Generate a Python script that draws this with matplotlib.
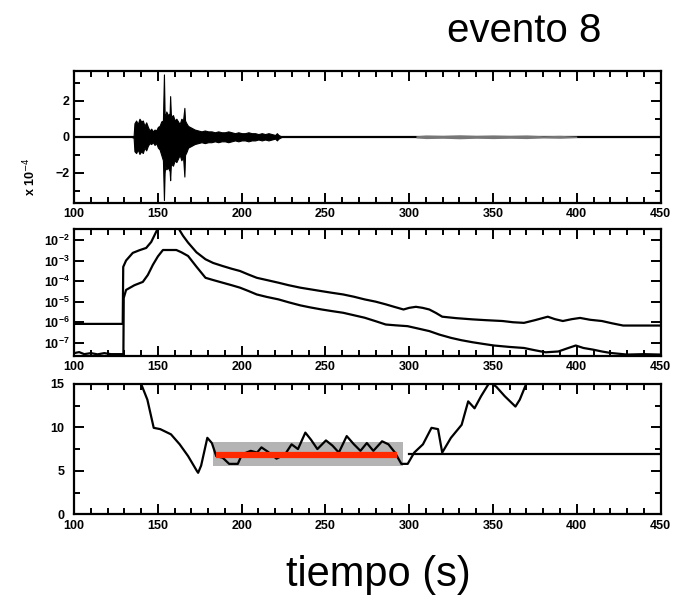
import numpy as np
import matplotlib
matplotlib.use("Agg")
import matplotlib.pyplot as plt
from matplotlib.ticker import MultipleLocator, FixedLocator, LogFormatterMathtext

# ---------------- data ----------------
# seismogram envelope (x 10^-4)
seis_t = [134, 135.5, 136, 137, 138, 139, 140, 141, 142, 143, 144, 145, 146, 147, 148, 149,
          150, 151, 152, 153, 153.6, 154, 154.4, 155, 156, 157, 157.3, 157.7, 158, 159,
          160, 161, 162, 163, 164, 165, 165.8, 166.2, 167, 168, 169, 170, 171, 172, 174,
          176, 178, 180, 182, 184, 186, 188, 190, 192, 194, 196, 198, 200, 202, 204, 206,
          208, 210, 212, 214, 216, 218, 220, 221, 222, 223, 224]
seis_hi = [0, 0.05, 0.75, 0.9, 0.7, 1.0, 0.85, 0.9, 0.6, 0.8, 0.55, 0.35, 0.45, 0.3, 0.4, 0.35,
           0.55, 0.6, 0.85, 0.9, 3.45, 1.3, 1.1, 1.4, 1.2, 1.3, 2.25, 1.3, 1.1, 1.2,
           0.9, 1.0, 0.85, 0.7, 1.0, 0.9, 1.6, 0.9, 0.75, 0.6, 0.55, 0.5, 0.45, 0.4, 0.35,
           0.3, 0.35, 0.3, 0.3, 0.25, 0.3, 0.25, 0.25, 0.3, 0.25, 0.2, 0.25, 0.2, 0.2, 0.25, 0.2,
           0.2, 0.15, 0.2, 0.15, 0.2, 0.15, 0.1, 0.2, 0.1, 0.05, 0]
seis_lo = [0, -0.05, -0.8, -0.9, -0.7, -0.95, -0.8, -0.9, -0.6, -0.75, -0.5, -0.35, -0.4, -0.3, -0.45, -0.35,
           -0.6, -0.7, -1.0, -1.3, -3.5, -2.0, -1.6, -1.8, -1.7, -1.9, -2.4, -1.6, -1.5, -1.6,
           -1.3, -1.4, -1.2, -1.0, -1.3, -1.1, -2.2, -1.0, -0.85, -0.6, -0.55, -0.5, -0.45, -0.4, -0.35,
           -0.3, -0.35, -0.3, -0.3, -0.25, -0.3, -0.25, -0.25, -0.3, -0.25, -0.2, -0.25, -0.2, -0.2, -0.25, -0.2,
           -0.2, -0.15, -0.2, -0.15, -0.2, -0.15, -0.1, -0.2, -0.1, -0.05, 0]
coda_t = [304, 310, 320, 330, 340, 350, 360, 370, 380, 390, 400]
coda_amp = [0.06, 0.1, 0.08, 0.11, 0.08, 0.1, 0.08, 0.1, 0.06, 0.08, 0.04]

# spectral envelopes (log10)
upper_t = [100, 129, 129.3, 131, 135, 139, 143, 146, 149, 151, 156, 162, 165, 168, 173, 178.4,
           183, 188.7, 194, 199, 204, 209, 215, 222, 228, 235, 241, 247.8, 254, 260.6, 267,
           273.4, 280, 286, 291, 296.6, 300, 304, 308, 312, 316, 319.7, 328, 337.7, 346,
           355.7, 362, 368.5, 375, 382.7, 387, 391.7, 397, 402, 408, 415, 421, 427.7, 438, 450]
upper_log = [-6.08, -6.08, -3.31, -3.0, -2.63, -2.5, -2.39, -2.1, -1.6, -1.3, -1.1, -1.4, -1.8, -2.13, -2.6, -2.94,
             -3.12, -3.27, -3.4, -3.51, -3.68, -3.84, -3.95, -4.08, -4.2, -4.32, -4.4, -4.49, -4.57, -4.65, -4.76,
             -4.89, -5.0, -5.13, -5.25, -5.38, -5.3, -5.25, -5.3, -5.38, -5.55, -5.73, -5.8, -5.86, -5.9,
             -5.94, -6.0, -6.03, -5.9, -5.73, -5.85, -5.94, -5.85, -5.79, -5.88, -5.94, -6.05, -6.16, -6.16, -6.16]
lower_t = [100, 103, 106, 110, 114, 118, 122, 129.4, 129.6, 131, 136, 141, 144, 147, 150, 153,
           161, 164, 168, 173, 178.4, 183, 188.7, 194, 199, 204, 209, 215, 222, 228, 235, 241,
           247.8, 254, 260.6, 267, 273.4, 280, 286, 292, 299, 305, 312, 318, 325, 331, 337.7,
           344, 350.6, 360, 368.5, 375, 381.4, 389, 395, 399.4, 404, 409.7, 415, 420, 430, 440, 450]
lower_log = [-7.5, -7.45, -7.55, -7.5, -7.56, -7.5, -7.55, -7.55, -4.82, -4.43, -4.2, -4.04, -3.7, -3.21, -2.8, -2.49,
             -2.49, -2.6, -2.78, -3.3, -3.84, -3.95, -4.08, -4.2, -4.32, -4.48, -4.65, -4.77, -4.89, -5.03, -5.18, -5.28,
             -5.38, -5.46, -5.54, -5.66, -5.78, -5.95, -6.11, -6.15, -6.19, -6.3, -6.43, -6.6, -6.76, -6.87, -6.97,
             -7.05, -7.13, -7.2, -7.25, -7.36, -7.46, -7.42, -7.25, -7.13, -7.25, -7.33, -7.42, -7.49, -7.57, -7.55, -7.57]

# third panel curve
curve_t = [138, 140, 143.7, 147.5, 151.4, 157.8, 163, 168, 173.2, 174, 175.8, 179.5, 182.2, 184.8,
           188.7, 192.5, 197.7, 200.2, 205.4, 209.2, 211.8, 215.6, 220.8, 225.9, 229.8, 233.6,
           238, 241.3, 245.2, 250.3, 254.2, 258, 262.7, 267, 270.9, 274.7, 278.6, 283.8, 287.6,
           291.5, 295.3, 299.1, 303, 308.2, 313.3, 317.2, 319.7, 324.9, 331.3, 335.2, 339,
           342.9, 348, 351.9, 357, 363.4, 366, 369.8, 371]
curve_v = [15.6, 15.0, 13.2, 9.95, 9.8, 9.2, 8.05, 6.7, 5.0, 4.77, 5.6, 8.8, 8.2, 6.7,
           6.5, 5.8, 5.8, 6.9, 7.3, 7.1, 7.7, 7.2, 6.4, 6.9, 8.05, 7.5,
           9.4, 8.6, 7.5, 8.5, 7.9, 7.1, 9.0, 8.05, 7.3, 8.2, 7.3, 8.4, 8.05,
           7.1, 5.8, 5.8, 7.1, 8.05, 9.95, 9.8, 7.1, 8.8, 10.3, 13.0, 12.2,
           13.6, 15.2, 14.7, 13.6, 12.4, 13.2, 15.0, 15.6]
level_value = 6.8
band_low, band_high = 5.55, 8.35
fit_start, fit_end = 184.5, 292.5
band_start, band_end = 183, 296
level_start = 300

xticks_major = [100, 150, 200, 250, 300, 350, 400, 450]

# ---------------- style ----------------
plt.rcParams["font.family"] = ["Liberation Sans Narrow", "Liberation Sans", "DejaVu Sans"]
tick_fs = 9
lw_axis = 1.6


def style_axes(ax, ypad=3):
    ax.set_xlim(100, 450)
    ax.xaxis.set_major_locator(FixedLocator(xticks_major))
    ax.xaxis.set_minor_locator(MultipleLocator(10))
    ax.tick_params(which="both", direction="in", top=True, right=True,
                   width=1.4, labelsize=tick_fs)
    ax.tick_params(axis="x", which="both", pad=4)
    ax.tick_params(axis="y", which="both", pad=ypad)
    ax.tick_params(which="major", length=7)
    ax.tick_params(which="minor", length=4)
    for lab in ax.get_xticklabels() + ax.get_yticklabels():
        lab.set_fontweight("bold")
    for sp in ax.spines.values():
        sp.set_linewidth(lw_axis)


fig = plt.figure(figsize=(6.74, 6.0), dpi=100)
ax1 = fig.add_axes([0.110, 0.662, 0.870, 0.220])
ax2 = fig.add_axes([0.110, 0.407, 0.870, 0.212])
ax3 = fig.add_axes([0.110, 0.143, 0.870, 0.217])

# --- panel 1: seismogram ---
ax1.axhline(0, color="black", lw=1.6, zorder=1)
ax1.fill_between(seis_t, seis_lo, seis_hi, color="black", lw=0.8, zorder=2)
ax1.fill_between(coda_t, -np.array(coda_amp), coda_amp, color="#777777", lw=0, zorder=2)
ax1.set_ylim(-3.65, 3.65)
ax1.yaxis.set_major_locator(FixedLocator([-2, 0, 2]))
ax1.yaxis.set_minor_locator(MultipleLocator(1))
style_axes(ax1)
fig.text(0.045, 0.705, r"x 10$^{-4}$", rotation=90, ha="center", va="center",
         fontsize=9, fontweight="bold")

# --- panel 2: log envelopes ---
ax2.plot(upper_t, 10 ** np.array(upper_log), color="black", lw=1.6)
ax2.plot(lower_t, 10 ** np.array(lower_log), color="black", lw=1.6)
ax2.set_yscale("log")
ax2.set_ylim(10 ** -7.63, 10 ** -1.45)
ax2.yaxis.set_major_locator(FixedLocator([1e-7, 1e-6, 1e-5, 1e-4, 1e-3, 1e-2]))
ax2.yaxis.set_major_formatter(LogFormatterMathtext())
ax2.yaxis.set_minor_locator(FixedLocator([]))
style_axes(ax2)

# --- panel 3 ---
ax3.fill_between([band_start, band_end], band_low, band_high, color="#b4b4b4", lw=0, zorder=1)
ax3.plot(curve_t, curve_v, color="black", lw=1.6, zorder=2)
ax3.plot([level_start, 450], [level_value + 0.1, level_value + 0.1], color="black", lw=1.6, zorder=2)
ax3.plot([fit_start, fit_end], [level_value, level_value], color="#ff2a00", lw=4.5,
         solid_capstyle="butt", zorder=3)
ax3.set_ylim(0, 15)
ax3.yaxis.set_major_locator(MultipleLocator(5))
ax3.yaxis.set_minor_locator(MultipleLocator(2.5))
style_axes(ax3, ypad=7)

fig.text(0.778, 0.948, "evento 8", ha="center", va="center", fontsize=29,
         family=["Liberation Sans", "DejaVu Sans"])
fig.text(0.562, 0.042, "tiempo (s)", ha="center", va="center", fontsize=30,
         family=["Liberation Sans", "DejaVu Sans"])

fig.savefig("out.png", dpi=100)
